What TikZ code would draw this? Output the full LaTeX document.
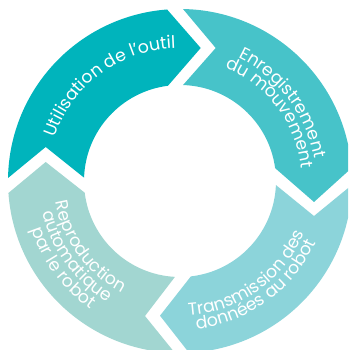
\documentclass[tikz,border=0pt]{standalone}
\usepackage{fontspec}
\setmainfont{Poppins}
\usetikzlibrary{decorations.text}
\definecolor{segA}{HTML}{00B4BC}
\definecolor{segB}{HTML}{47C3C9}
\definecolor{segC}{HTML}{8CD4DA}
\definecolor{segD}{HTML}{A2D6D1}
\newcommand{\arclabel}[4]{%
  \path[decorate,decoration={text along path,text align=center,
    text={|\fontsize{17.3}{18}\selectfont\color{white}|#4}}]
    ([shift={(#2:#1pt)}]c) arc[start angle=#2,end angle=#3,radius=#1pt];}
\begin{document}
\begin{tikzpicture}[x=1pt,y=1pt]
\useasboundingbox (0,0) rectangle (348,350);
\clip (0,0) rectangle (348,350);
\coordinate (c) at (180,169);
% Utilisation de l'outil
\fill[segA] ([shift={(179:172pt)}]c) arc[start angle=179,end angle=94.3,radius=172pt]
  -- (200.7,302) -- ([shift={(97.2:96pt)}]c) arc[start angle=97.2,end angle=178,radius=96pt]
  -- (45.7,203) -- cycle;
% Enregistrement
\fill[segB] ([shift={(89:172pt)}]c) arc[start angle=89,end angle=4.3,radius=172pt]
  -- (314,148) -- ([shift={(7.7:96pt)}]c) arc[start angle=7.7,end angle=88.2,radius=96pt]
  -- (215.7,302) -- cycle;
% Transmission
\fill[segC] ([shift={(-1.3:172pt)}]c) arc[start angle=-1.3,end angle=-87,radius=172pt]
  -- (160,34.3) -- ([shift={(-83.5:96pt)}]c) arc[start angle=-83.5,end angle=-2.4,radius=96pt]
  -- (314,134) -- cycle;
% Reproduction
\fill[segD] ([shift={(268.3:172pt)}]c) arc[start angle=268.3,end angle=184,radius=172pt]
  -- (45.7,188) -- ([shift={(187:96pt)}]c) arc[start angle=187,end angle=267,radius=96pt]
  -- (145,34) -- cycle;
\arclabel{133}{162}{91}{Utilisation de l’outil}
\arclabel{136}{65}{9}{Enregistrement}
\arclabel{122}{67}{7}{du mouvement}
\arclabel{135}{-87}{-22}{Transmission des}
\arclabel{149}{-84}{-24}{données au robot}
\arclabel{126}{189}{243}{Reproduction}
\arclabel{141}{193}{239}{automatique}
\arclabel{156}{198}{235}{par le robot}
\end{tikzpicture}
\end{document}
